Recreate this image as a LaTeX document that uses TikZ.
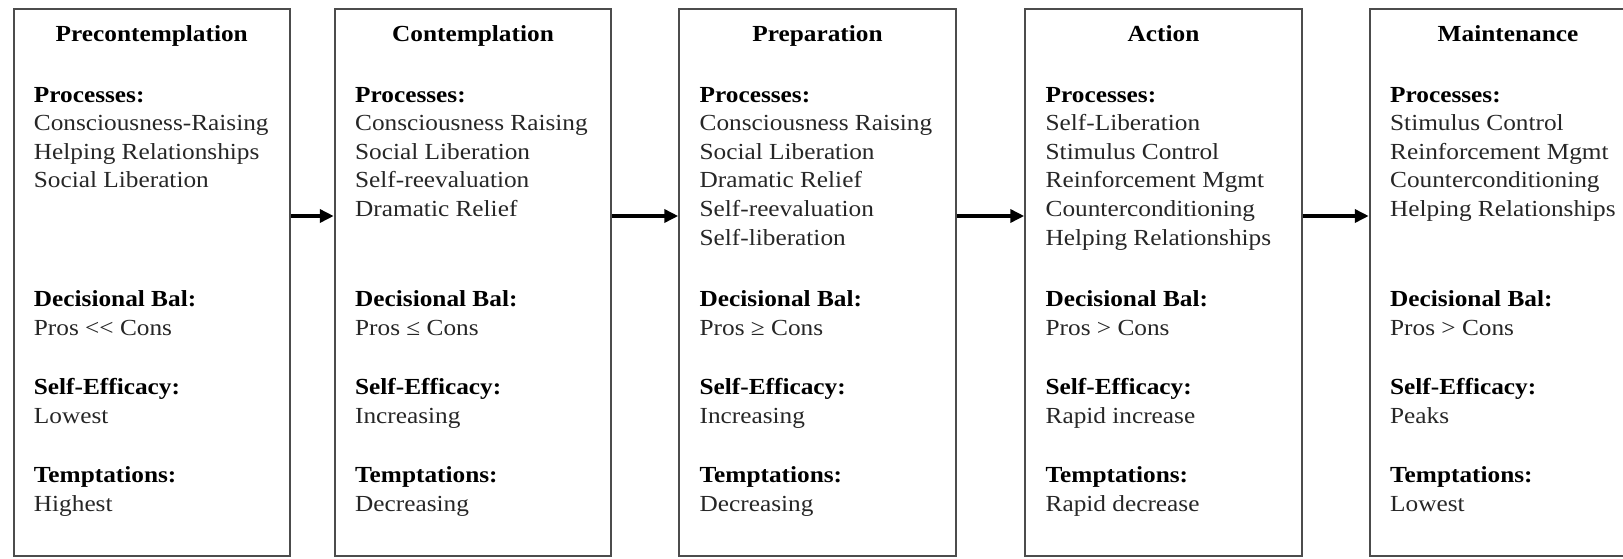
\documentclass[tikz,border=0pt]{standalone}
\usepackage{fontspec}
\setmainfont{Liberation Serif}[FakeStretch=1.1]
\usetikzlibrary{arrows.meta}
\newcommand\hd[1]{{\color{black}\bfseries #1}}
\newcommand\stage[8]{%
  \node[stagebox] (#1) at (#2,282.5) {};
  \node[ttl] (#1-t) at (#2,41.5) {#3};
  \node[txt] (#1-p) at (#2-118.25,102+#8*28.6) {\hd{Processes:}\\#4};
  \node[txt] (#1-d) at (#2-118.25,335) {\hd{Decisional Bal:}\\#5};
  \node[txt] (#1-s) at (#2-118.25,423) {\hd{Self-Efficacy:}\\#6};
  \node[txt] (#1-m) at (#2-118.25,511) {\hd{Temptations:}\\#7};
}
\begin{document}
\begin{tikzpicture}[x=0.5pt,y=-0.5pt,
  stagebox/.style={draw=black!70,line width=1pt,minimum width=138.25pt,minimum height=273.5pt,inner sep=0pt},
  ttl/.style={font=\fontsize{11.5}{14.3}\selectfont\bfseries,anchor=base,inner sep=0pt},
  txt/.style={font=\fontsize{11.5}{14.3}\selectfont,anchor=base west,align=left,inner sep=0pt,text=black!85},
  conn/.style={line width=2pt,-{Triangle[length=7pt,width=6.5pt]}}]
\useasboundingbox (0,0) rectangle (1623,558);
\clip (0,0) rectangle (1623,558);
\stage{b1}{151.75}{Precontemplation}{Consciousness-Raising\\Helping Relationships\\Social Liberation}{Pros <{}< Cons}{Lowest}{Highest}{3}
\stage{b2}{473}{Contemplation}{Consciousness Raising\\Social Liberation\\Self-reevaluation\\Dramatic Relief}{Pros ≤ Cons}{Increasing}{Decreasing}{4}
\stage{b3}{817.5}{Preparation}{Consciousness Raising\\Social Liberation\\Dramatic Relief\\Self-reevaluation\\Self-liberation}{Pros ≥ Cons}{Increasing}{Decreasing}{5}
\stage{b4}{1163.5}{Action}{Self-Liberation\\Stimulus Control\\Reinforcement Mgmt\\Counterconditioning\\Helping Relationships}{Pros > Cons}{Rapid increase}{Rapid decrease}{5}
\stage{b5}{1508}{Maintenance}{Stimulus Control\\Reinforcement Mgmt\\Counterconditioning\\Helping Relationships}{Pros > Cons}{Peaks}{Lowest}{4}
\coordinate (ay) at (0,216);
\draw[conn] (b1.east |- ay) -- (b2.west |- ay);
\draw[conn] (b2.east |- ay) -- (b3.west |- ay);
\draw[conn] (b3.east |- ay) -- (b4.west |- ay);
\draw[conn] (b4.east |- ay) -- (b5.west |- ay);
\end{tikzpicture}
\end{document}
